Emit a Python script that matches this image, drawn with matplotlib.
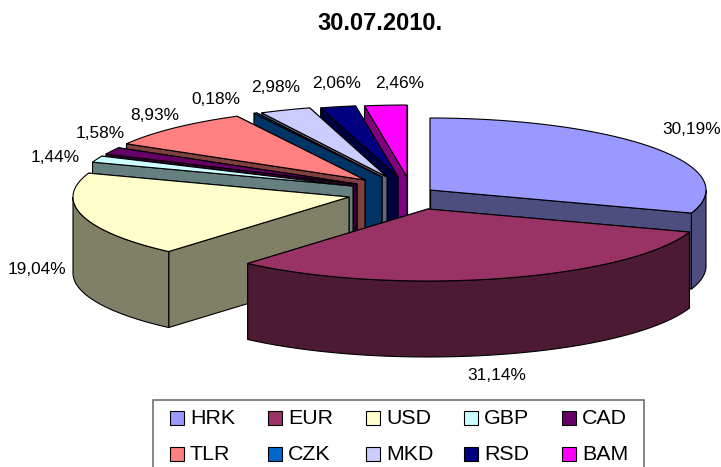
import numpy as np
import matplotlib
matplotlib.use("Agg")
from matplotlib import pyplot as plt
from matplotlib.patches import Polygon, Rectangle

plt.rcParams['font.family'] = ['Liberation Sans', 'DejaVu Sans']

title = "30.07.2010."
currencies = ["HRK", "EUR", "USD", "GBP", "CAD", "TLR", "CZK", "MKD", "RSD", "BAM"]
shares = [30.19, 31.14, 19.04, 1.44, 1.58, 8.93, 0.18, 2.98, 2.06, 2.46]
colors = ["#9999FF", "#993366", "#FFFFCC", "#CCFFFF", "#660066",
          "#FF8080", "#0066CC", "#CCCCFF", "#000080", "#FF00FF"]

# layout of the exploded pie, in figure pixels
center_x, center_y = 397, 193
radius_x, radius_y = 276, 72
depth = 76
explode_x = [33, 31, -48, -44, -40, -32, -15, -10, 1, 10]
explode_y = [-3, 16, 4, -7, -9, -13, -16, -16, -16, -16]
label_x = [692, 497, 37, 55, 100, 155, 216, 276, 337, 400]
label_y = [130, 375, 270, 158, 133, 115, 99, 87, 83, 83]
# back slices first, EUR comes last because it is in front of everything
draw_order = [0, 9, 8, 7, 6, 5, 4, 3, 2, 1]


def shade(color):
    return tuple(c * 0.5 for c in matplotlib.colors.to_rgb(color))


def rim(ax_x, ax_y, angles):
    a = np.radians(angles)
    return np.column_stack((ax_x + radius_x * np.sin(a), ax_y - radius_y * np.cos(a)))


def draw_poly(ax, pts, color):
    ax.add_patch(Polygon(pts, closed=True, facecolor=color, edgecolor="black", linewidth=0.8))


fig = plt.figure(figsize=(7.21, 4.67), dpi=100)
ax = fig.add_axes([0, 0, 1, 1])
ax.set_xlim(0, 721)
ax.set_ylim(467, 0)
ax.axis("off")

edges = np.concatenate(([0], np.cumsum(shares))) / sum(shares) * 360

for i in draw_order:
    start, end = edges[i], edges[i + 1]
    px = center_x + explode_x[i]
    py = center_y + explode_y[i]
    apex = np.array([[px, py]])
    drop = np.array([0, depth])

    # flat cut faces
    for ang in (end, start):
        corner = rim(px, py, [ang])
        draw_poly(ax, np.vstack((apex, corner, corner + drop, apex + drop)), shade(colors[i]))

    # curved outer wall, only the part that faces the viewer
    lo, hi = max(start, 90), min(end, 270)
    if hi > lo:
        arc = rim(px, py, np.linspace(lo, hi, 80))
        draw_poly(ax, np.vstack((arc, (arc + drop)[::-1])), shade(colors[i]))

    # top surface
    arc = rim(px, py, np.linspace(start, end, 120))
    draw_poly(ax, np.vstack((apex, arc)), colors[i])

for i in range(len(shares)):
    ax.text(label_x[i], label_y[i], f"{shares[i]:.2f}%".replace(".", ","),
            fontsize=12.4, ha="center", va="center")

ax.text(380, 23, title, fontsize=17, fontweight="bold", ha="center", va="center")

# legend box, two rows of five
ax.add_patch(Rectangle((153, 400), 491, 70, facecolor="white", edgecolor="#666666", linewidth=1.1))
for i, name in enumerate(currencies):
    col = i % 5
    row = i // 5
    x = 170 + 98 * col
    y = 418 + 36 * row
    ax.add_patch(Rectangle((x, y - 7), 14, 14, facecolor=colors[i], edgecolor="black", linewidth=0.8))
    ax.text(x + 20, y, name, fontsize=15.4, ha="left", va="center")

fig.savefig("out.png", dpi=100)
